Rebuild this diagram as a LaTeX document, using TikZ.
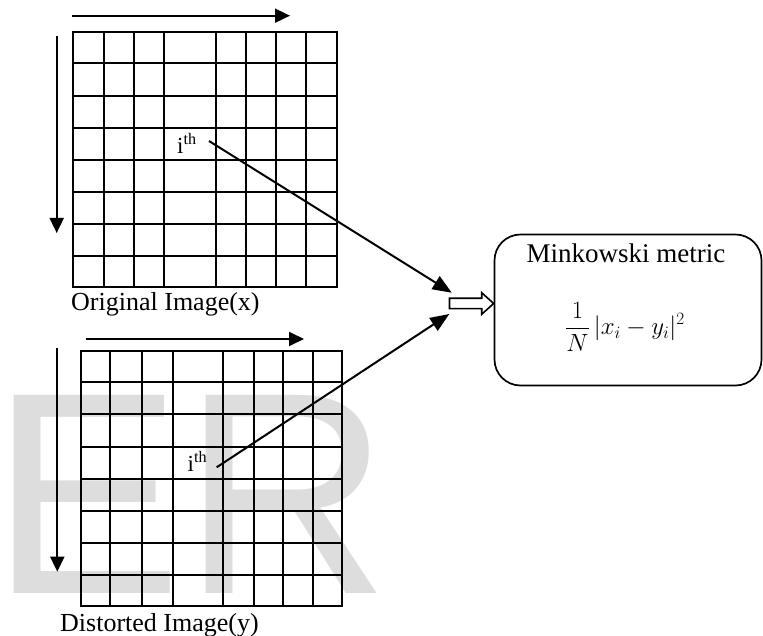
\documentclass[tikz,border=0pt]{standalone}
\usepackage{fontspec}
\setmainfont{Liberation Serif}
\newfontfamily\wmfont{Liberation Sans}
\usetikzlibrary{arrows.meta}
\definecolor{wmgray}{RGB}{221,221,221}
\tikzset{
  gridline/.style={line width=1.8pt, line cap=rect},
  smallarrow/.style={line width=1.8pt, -{Triangle[length=15pt,width=14pt]}},
  bigarrow/.style={line width=2pt, -{Triangle[length=19pt,width=15pt]}},
  caption/.style={inner sep=0pt, anchor=base west, font=\fontsize{26}{30}\selectfont},
  ithlabel/.style={inner sep=0pt, anchor=base west, font=\fontsize{23}{26}\selectfont},
  hollow/.style={line width=1.6pt, draw=black, fill=white},
  metricbox/.style={draw, line width=1.7pt, rounded corners=26pt, minimum width=267pt, minimum height=151pt, inner sep=0pt}
}
\begin{document}
\begin{tikzpicture}[x=1pt,y=-1pt]
\useasboundingbox (0,0) rectangle (763,636);
% watermark
\node[inner sep=0pt, anchor=base west, text=wmgray, font=\wmfont\fontsize{288}{288}\selectfont] (wm) at (-9.5,593) {ER};
% top grid
\foreach \x in {72.7,104,134.3,164,216,246,276,306,336.7}
  \draw[gridline] (\x,31.7) -- (\x,287.3);
\foreach \y in {31.7,63.3,95.7,127.7,160,192,223.7,255.7,287.3}
  \draw[gridline] (72.7,\y) -- (336.7,\y);
% bottom grid
\foreach \x in {81,110,142.3,172.7,223.3,254.3,283.3,313.3,342.3}
  \draw[gridline] (\x,350.7) -- (\x,606.3);
\foreach \y in {350.7,382.3,414.3,446.7,479,511,542.7,574.7,606.3}
  \draw[gridline] (81,\y) -- (342.3,\y);
% scan arrows
\coordinate (h1s) at (71.7,15.7); \coordinate (h1e) at (290,15.7);
\coordinate (v1s) at (56.7,36);   \coordinate (v1e) at (56.7,233);
\coordinate (h2s) at (86,339);    \coordinate (h2e) at (304,339);
\coordinate (v2s) at (57.3,348);  \coordinate (v2e) at (57.3,571.7);
\draw[smallarrow] (h1s) -- (h1e);
\draw[smallarrow] (v1s) -- (v1e);
\draw[smallarrow] (h2s) -- (h2e);
\draw[smallarrow] (v2s) -- (v2e);
% captions
\node[caption] (cap1) at (71,310.7) {Original Image(x)};
\node[caption] (cap2) at (60,631) {Distorted Image(y)};
% ith labels
\node[ithlabel] (ith1) at (177,153.3) {i\textsuperscript{th}};
\node[ithlabel] (ith2) at (187.5,471.7) {i\textsuperscript{th}};
% metric box
\node[metricbox] (mink) at (628,310) {};
\node[inner sep=0pt, anchor=base, font=\fontsize{27}{30}\selectfont] (title) at (626,262.3) {Minkowski metric};
\node[inner sep=0pt, font=\fontsize{23}{27}\selectfont] (formula) at (625,327) {$\displaystyle \frac{1}{N}\,|x_i-y_i|^2$};
% converging arrows
\coordinate (s1) at (209,141);
\coordinate (t1) at (451.7,292.7);
\coordinate (s2) at (216.7,467.3);
\coordinate (t2) at (449.3,314);
\draw[bigarrow] (s1) -- (t1);
\draw[bigarrow] (s2) -- (t2);
% hollow arrow into box
\draw[hollow] (449.5,298.3) -- (481.7,298.3) -- (481.7,292.7) -- (mink.west |- 0,303.5) -- (481.7,314.3) -- (481.7,308.7) -- (449.5,308.7) -- cycle;
\end{tikzpicture}
\end{document}
